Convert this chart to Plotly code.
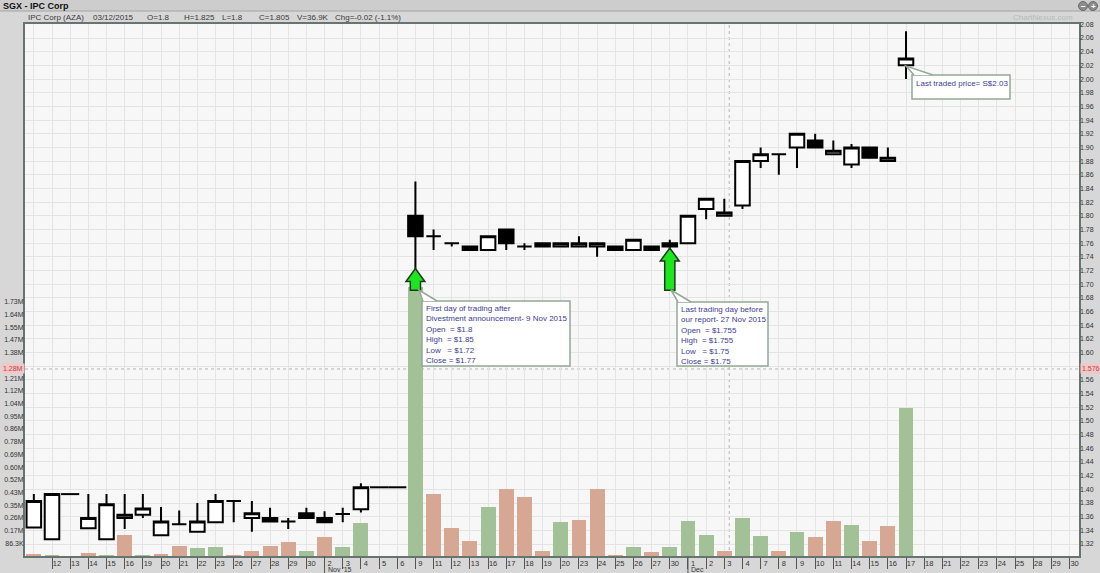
import plotly.graph_objects as go

# ---------------- data ----------------
months = ["Oct"] * 16 + ["Nov"] * 20 + ["Dec"] * 22
days = ["9", "12", "13", "14", "15", "16", "19", "20", "21", "22", "23", "26", "27", "28", "29", "30",
        "2", "3", "4", "5", "6", "9", "11", "12", "13", "16", "17", "18", "19", "20", "23", "24", "25", "26", "27", "30",
        "1", "2", "3", "4", "7", "8", "9", "10", "11", "14", "15", "16", "17", "18", "21", "22", "23", "24", "25", "28", "29", "30"]

opens = [1.344, 1.327, 1.393, 1.343, 1.327, 1.358, 1.363, 1.333, 1.349, 1.338, 1.352, 1.383, 1.358, 1.358, 1.353, 1.365,
         1.358, 1.364, 1.371, 1.403, 1.403, 1.80, 1.77, 1.76, 1.755, 1.75, 1.78, 1.755, 1.76, 1.755, 1.755, 1.755, 1.755,
         1.75, 1.755, 1.76, 1.76, 1.81, 1.80, 1.815, 1.88, 1.89, 1.90, 1.91, 1.89, 1.875, 1.90, 1.88, 2.02]
highs = [1.393, 1.393, 1.393, 1.393, 1.393, 1.393, 1.393, 1.374, 1.369, 1.380, 1.393, 1.383, 1.383, 1.373, 1.358, 1.373,
         1.368, 1.373, 1.409, 1.403, 1.403, 1.85, 1.78, 1.76, 1.755, 1.77, 1.78, 1.76, 1.76, 1.76, 1.77, 1.76, 1.755,
         1.765, 1.755, 1.765, 1.80, 1.825, 1.825, 1.88, 1.90, 1.89, 1.92, 1.92, 1.91, 1.905, 1.90, 1.90, 2.07]
lows = [1.344, 1.327, 1.393, 1.343, 1.327, 1.342, 1.358, 1.333, 1.349, 1.338, 1.352, 1.352, 1.338, 1.353, 1.342, 1.358,
        1.352, 1.352, 1.366, 1.403, 1.403, 1.72, 1.75, 1.755, 1.75, 1.75, 1.75, 1.75, 1.755, 1.755, 1.755, 1.74, 1.75,
        1.75, 1.75, 1.75, 1.76, 1.795, 1.80, 1.81, 1.87, 1.86, 1.87, 1.90, 1.89, 1.87, 1.885, 1.88, 2.00]
closes = [1.383, 1.393, 1.393, 1.358, 1.378, 1.363, 1.372, 1.353, 1.349, 1.353, 1.383, 1.383, 1.365, 1.353, 1.353, 1.358,
          1.352, 1.364, 1.403, 1.403, 1.403, 1.77, 1.77, 1.76, 1.75, 1.77, 1.76, 1.755, 1.755, 1.76, 1.76, 1.76, 1.75,
          1.765, 1.75, 1.755, 1.80, 1.825, 1.805, 1.88, 1.89, 1.89, 1.92, 1.90, 1.895, 1.90, 1.885, 1.885, 2.03]
volumes = [7000, 2000, 0, 20000, 2000, 144000, 2000, 17000, 67000, 53000, 58000, 2000, 33000, 67000, 92000, 37000,
           126000, 58000, 226000, 0, 0, 1828000, 419000, 189000, 99000, 330000, 453000, 398000, 31000, 229000, 242000,
           453000, 2000, 58000, 27000, 58000, 235000, 142000, 36900, 259000, 134000, 31000, 165000, 129000, 235000,
           213000, 99000, 204000, 1004000]

price_ticks = [1.32, 1.34, 1.36, 1.38, 1.40, 1.42, 1.44, 1.46, 1.48, 1.50, 1.52, 1.54, 1.56, 1.58, 1.60, 1.62, 1.64,
               1.66, 1.68, 1.70, 1.72, 1.74, 1.76, 1.78, 1.80, 1.82, 1.84, 1.86, 1.88, 1.90, 1.92, 1.94, 1.96, 1.98,
               2.00, 2.02, 2.04, 2.06, 2.08]
price_tick_labels = ["%.2f" % v for v in price_ticks]
vol_ticks = [86300 * k for k in range(1, 21)]
vol_tick_labels = ["86.3K", "0.17M", "0.26M", "0.35M", "0.43M", "0.52M", "0.60M", "0.69M", "0.78M", "0.86M",
                   "0.95M", "1.04M", "1.12M", "1.21M", "1.29M", "1.38M", "1.47M", "1.55M", "1.64M", "1.73M"]

cursor_price = 1.576
cursor_volume_label = "1.28M"
cursor_x = 38.27
header_index = 38
header_date = "03/12/2015"
box1_index = 21
box2_index = 34
arrow_index = [21, 35]
arrow_tip = [1.723, 1.753]
arrow_base = 1.691

# ---------------- geometry helpers (pixel -> paper) ----------------
PL, PT, PW, PH = 25, 24, 1054, 532
def fx(px):
    return (px - PL) / PW
def fy(py):
    return (PT + PH - py) / PH

PRICE_RANGE = [1.3025, 2.0805]
VOL_RANGE = [0, 3.614e6]

FONT = "Liberation Sans, Arial, sans-serif"
TXT = "#3d3d95"
BOXLINE = "#93a897"

n = len(closes)
xs = list(range(n))

# the cursor value boxes cover the tick labels underneath them
pi = min(range(len(price_ticks)), key=lambda k: abs(price_ticks[k] - cursor_price))
price_tick_labels[pi] = ""
cursor_vol = VOL_RANGE[0] + (cursor_price - PRICE_RANGE[0]) / (PRICE_RANGE[1] - PRICE_RANGE[0]) * (VOL_RANGE[1] - VOL_RANGE[0])
vi = min(range(len(vol_ticks)), key=lambda k: abs(vol_ticks[k] - cursor_vol))
vol_tick_labels[vi] = ""

# volume colours: up vs previous close
up_col, dn_col = "#a2c196", "#d6a793"
vol_colors = []
for i in range(n):
    prev = closes[i - 1] if i > 0 else closes[i] + 1
    vol_colors.append(up_col if closes[i] > prev else dn_col)

flat = [volumes[i] == 0 and opens[i] == highs[i] == lows[i] == closes[i] for i in range(n)]

fig = go.Figure()

fig.add_trace(go.Bar(x=xs, y=volumes, marker=dict(color=vol_colors, line=dict(width=0)),
                     width=0.82, yaxis="y", hoverinfo="skip", showlegend=False))

cx = [i for i in xs if not flat[i]]
fig.add_trace(go.Candlestick(
    x=cx, open=[opens[i] for i in cx], high=[highs[i] for i in cx],
    low=[lows[i] for i in cx], close=[closes[i] for i in cx],
    yaxis="y2", whiskerwidth=0, showlegend=False, hoverinfo="skip",
    increasing=dict(fillcolor="white", line=dict(color="black", width=2)),
    decreasing=dict(fillcolor="black", line=dict(color="black", width=2))))

fx_line, fy_line = [], []
for i in xs:
    if flat[i]:
        fx_line += [i - 0.5, i + 0.5, None]
        fy_line += [closes[i], closes[i], None]
fig.add_trace(go.Scatter(x=fx_line, y=fy_line, mode="lines", yaxis="y2",
                         line=dict(color="black", width=2), hoverinfo="skip", showlegend=False))

shapes = []
ann = []

# header strip
shapes.append(dict(type="rect", xref="paper", yref="paper", x0=fx(0), x1=fx(1100), y0=fy(0), y1=fy(11),
                   fillcolor="#cdcdcd", line=dict(width=0), layer="above"))
shapes.append(dict(type="line", xref="paper", yref="paper", x0=fx(0), x1=fx(1100), y0=fy(11), y1=fy(11),
                   line=dict(color="#a4a4a4", width=1), layer="above"))

# crosshair
shapes.append(dict(type="line", xref="paper", yref="y2", x0=0, x1=1, y0=cursor_price, y1=cursor_price,
                   line=dict(color="#b4b4b4", width=1, dash="dot"), layer="below"))
shapes.append(dict(type="line", xref="x", yref="paper", x0=cursor_x, x1=cursor_x, y0=0, y1=1,
                   line=dict(color="#b4b4b4", width=1, dash="dot"), layer="below"))

# green arrows
for xi, tip in zip(arrow_index, arrow_tip):
    hb = tip - 0.019
    path = ("M %f,%f L %f,%f L %f,%f L %f,%f L %f,%f L %f,%f L %f,%f Z" %
            (xi - 0.28, arrow_base, xi - 0.28, hb, xi - 0.52, hb, xi, tip, xi + 0.52, hb,
             xi + 0.28, hb, xi + 0.28, arrow_base))
    shapes.append(dict(type="path", xref="x", yref="y2", path=path, fillcolor="#1ee61e",
                       line=dict(color="#1f3a1f", width=1.5), layer="above"))

# callout boxes
def callout(x0, y0, x1, y1, tip, b0, b1):
    shapes.append(dict(type="rect", xref="paper", yref="paper", x0=fx(x0), x1=fx(x1), y0=fy(y0), y1=fy(y1),
                       fillcolor="white", line=dict(color=BOXLINE, width=1.5), layer="above"))
    p = "M %f,%f L %f,%f L %f,%f" % (fx(b0), fy(y0), fx(tip[0]), fy(tip[1]), fx(b1), fy(y0))
    shapes.append(dict(type="path", xref="paper", yref="paper", path=p, fillcolor="white",
                       line=dict(color=BOXLINE, width=1.5), layer="above"))

callout(422, 301, 570, 366, (419, 290), 423, 437)
callout(677, 302, 768, 366, (671, 290), 678, 691)
callout(912, 75, 1010, 99, (906, 66), 914, 933)

def g(v):
    return "%g" % v

nb = "\u00a0"
t1 = ("First day of trading after<br>Divestment announcement- 9 Nov 2015<br>"
      "Open%s = $%s<br>High%s = $%s<br>Low%s%s = $%s<br>Close = $%s" %
      (nb, g(opens[box1_index]), nb, g(highs[box1_index]), nb, nb, g(lows[box1_index]), g(closes[box1_index])))
t2 = ("Last trading day before<br>our report- 27 Nov 2015<br>"
      "Open%s = $%s<br>High%s = $%s<br>Low%s%s = $%s<br>Close = $%s" %
      (nb, g(opens[box2_index]), nb, g(highs[box2_index]), nb, nb, g(lows[box2_index]), g(closes[box2_index])))
t3 = "Last traded price= S$%.2f" % closes[-1]
for (x, y, t) in [(424, 302, t1), (679, 303, t2), (914, 77, t3)]:
    ann.append(dict(xref="paper", yref="paper", x=fx(x), y=fy(y), xanchor="left", yanchor="top",
                    text=t, showarrow=False, align="left", font=dict(family=FONT, size=8, color=TXT)))

# header texts
ann.append(dict(xref="paper", yref="paper", x=fx(1), y=fy(6), xanchor="left", yanchor="middle",
                text="<b>SGX - IPC Corp</b>", showarrow=False, font=dict(family=FONT, size=9, color="#111")))
h = header_index
chg = closes[h] - closes[h - 1]
hdr = [(26, "IPC Corp (AZA)"), (91, header_date), (145, "O=%s" % g(opens[h])), (182, "H=%s" % g(highs[h])),
       (220, "L=%s" % g(lows[h])), (257, "C=%s" % g(closes[h])), (295, "V=%.1fK" % (volumes[h] / 1000)),
       (333, "Chg=%.2f (%.1f%%)" % (chg, chg / closes[h - 1] * 100))]
for x, t in hdr:
    ann.append(dict(xref="paper", yref="paper", x=fx(x), y=fy(17), xanchor="left", yanchor="middle",
                    text=t, showarrow=False, font=dict(family=FONT, size=8, color="#3a3a3a")))
ann.append(dict(xref="paper", yref="paper", x=fx(1075), y=fy(17), xanchor="right", yanchor="middle",
                text="ChartNexus.com", showarrow=False, font=dict(family=FONT, size=8, color="#b9b9b9")))

# zoom icons
for cxp, sym in [(1083, "\u2212"), (1093, "+")]:
    shapes.append(dict(type="circle", xref="paper", yref="paper", x0=fx(cxp - 4.5), x1=fx(cxp + 4.5),
                       y0=fy(1.5), y1=fy(10.5), fillcolor="#8c8c8c", line=dict(color="#6a6a6a", width=1),
                       layer="above"))
    ann.append(dict(xref="paper", yref="paper", x=fx(cxp), y=fy(6), xanchor="center", yanchor="middle",
                    text="<b>%s</b>" % sym, showarrow=False, font=dict(family=FONT, size=8, color="white")))

# cursor value boxes
ann.append(dict(xref="paper", yref="y2", x=fx(1080), y=cursor_price, xanchor="left", yanchor="middle",
                text="%.3f" % cursor_price, showarrow=False, bgcolor="#f5c6c6", borderpad=1,
                font=dict(family=FONT, size=7, color="#b04848")))
ann.append(dict(xref="paper", yref="y2", x=fx(24.5), y=cursor_price, xanchor="right", yanchor="middle",
                text=cursor_volume_label, showarrow=False, bgcolor="#f5c6c6", borderpad=1,
                font=dict(family=FONT, size=7, color="#b04848")))

# month labels and long ticks
for i in range(1, len(days)):
    if months[i] != months[i - 1]:
        shapes.append(dict(type="line", xref="x", yref="paper", x0=i, x1=i, y0=fy(556), y1=fy(573),
                           line=dict(color="#555", width=1), layer="above"))
        label = "Nov '15" if months[i] == "Nov" else months[i]
        ann.append(dict(xref="x", yref="paper", x=i, y=fy(569), xanchor="left", yanchor="middle", xshift=1,
                        text=label, showarrow=False, font=dict(family=FONT, size=7, color="#333")))

fig.update_layout(
    width=1100, height=573,
    margin=dict(l=PL, r=1100 - PL - PW, t=PT, b=573 - PT - PH, pad=0, autoexpand=False),
    paper_bgcolor="#d7d7d7", plot_bgcolor="#f7f7f7",
    showlegend=False, boxgap=0.2, boxgroupgap=0, bargap=0,
    shapes=shapes, annotations=ann, hovermode=False,
    xaxis=dict(range=[-0.486, 57.52], tickmode="array", tickvals=list(range(1, len(days))),
               ticktext=days[1:], ticks="outside", ticklen=11, tickcolor="#555", tickwidth=1,
               ticklabelstandoff=-12, ticklabelshift=5, automargin=False,
               tickfont=dict(family=FONT, size=7.5, color="#333"),
               showgrid=True, gridcolor="#e4e4e4", gridwidth=1,
               minor=dict(tickvals=[0], showgrid=True, gridcolor="#e4e4e4", ticks=""),
               showline=True, linecolor="#66756f", linewidth=2, mirror=True, zeroline=False,
               rangeslider=dict(visible=False), fixedrange=True),
    yaxis=dict(range=VOL_RANGE, tickmode="array", tickvals=vol_ticks, ticktext=vol_tick_labels,
               side="left", ticks="", showgrid=False, zeroline=False, ticklabelstandoff=-2, automargin=False,
               tickfont=dict(family=FONT, size=7, color="#333"),
               showline=True, linecolor="#66756f", linewidth=2, mirror=True),
    yaxis2=dict(range=PRICE_RANGE, overlaying="y", side="right", tickmode="array",
                tickvals=price_ticks, ticktext=price_tick_labels, ticks="", showgrid=True, automargin=False,
                gridcolor="#e4e4e4", gridwidth=1, zeroline=False, showline=False,
                tickfont=dict(family=FONT, size=7, color="#333")),
)

fig.write_html("out.html", config={"displayModeBar": False},
               post_script="document.body.style.margin='0';document.body.style.background='#d7d7d7';")
